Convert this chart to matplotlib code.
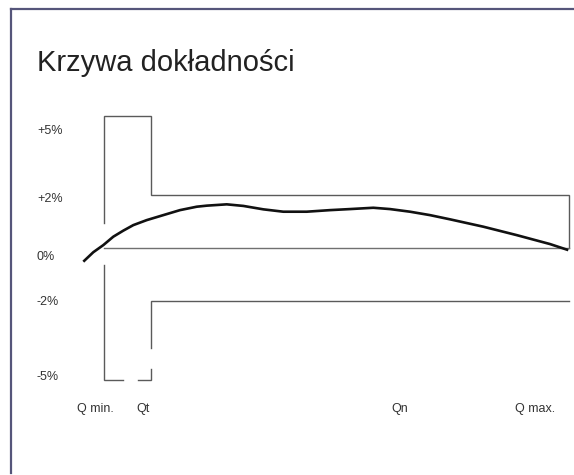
import matplotlib.pyplot as plt
from matplotlib.lines import Line2D

# accuracy curve, x in % of the Qmin..Qmax span, y in %
curve_x = [-4.45, -2.30, -0.15, 2.00, 4.15, 6.30, 9.18, 12.75, 16.34, 19.94,
           22.09, 26.39, 29.96, 34.26, 38.56, 43.59, 48.60, 52.90, 57.91,
           61.51, 65.81, 70.11, 74.41, 81.57, 88.75, 95.91, 99.85]
curve_y = [-0.52, -0.16, 0.11, 0.43, 0.66, 0.87, 1.06, 1.25, 1.44, 1.57,
           1.61, 1.66, 1.60, 1.47, 1.38, 1.38, 1.44, 1.48, 1.53,
           1.48, 1.38, 1.25, 1.09, 0.81, 0.49, 0.15, -0.08]

# limit lines (as printed, with gaps)
upper_x = [0, 0, 10, 10, 100, 100]
upper_y = [0.95, 5, 5, 2, 2, 0]
lower_x = [10, 10, 100]
lower_y = [-3.8, -2, -2]
lower_left_x = [0, 0, 4]
lower_left_y = [-0.65, -5, -5]
lower_foot_x = [7.3, 10, 10]
lower_foot_y = [-5, -5, -4.6]
zero_x = [0, 100]
zero_y = [0, 0]

ytick_pos = [4.5, 1.93, -0.27, -1.98, -4.83]
ytick_labels = ["+5%", "+2%", "0%", "-2%", "-5%"]
xtick_pos = [-1.94, 8.39, 63.66, 92.69]
xtick_labels = ["Q min.", "Qt", "Qn", "Q max."]

plt.rcParams['font.family'] = ['Liberation Sans', 'DejaVu Sans']

W, H = 574, 475
fig = plt.figure(figsize=(W / 100, H / 100), dpi=100)
fig.patch.set_facecolor("white")

# axes box in pixels: left 50, right 574, top 100, bottom 398
ax = fig.add_axes([50 / W, (H - 398) / H, 524 / W, 298 / H])
ax.set_xlim((50 - 104) / 4.65, (574 - 104) / 4.65)
ax.set_ylim((248 - 398) / 26.3, (248 - 100) / 26.3)
ax.set_facecolor("none")
for s in ax.spines.values():
    s.set_visible(False)

lim_kw = dict(color="#5a5a5a", lw=1.0, clip_on=False, solid_joinstyle="miter")
ax.plot(upper_x, upper_y, **lim_kw)
ax.plot(lower_x, lower_y, **lim_kw)
ax.plot(lower_left_x, lower_left_y, **lim_kw)
ax.plot(lower_foot_x, lower_foot_y, **lim_kw)
ax.plot(zero_x, zero_y, color="#707070", lw=1.0, clip_on=False)

ax.plot(curve_x, curve_y, color="#111111", lw=1.9, clip_on=False,
        solid_capstyle="butt", solid_joinstyle="round")

ax.set_yticks(ytick_pos)
ax.set_yticklabels(ytick_labels, ha="left", fontsize=9, color="#333333")
ax.tick_params(axis="y", length=0, pad=9.4)
ax.set_xticks(xtick_pos)
ax.set_xticklabels(xtick_labels, fontsize=9, color="#333333")
ax.tick_params(axis="x", length=0, pad=3.4)

fig.text(37 / W, (H - 71) / H, "Krzywa dokładności", fontsize=21,
         color="#222222", ha="left", va="baseline")

# frame of the slide
fig.add_artist(Line2D([11 / W, 11 / W], [(H - 473) / H, (H - 9) / H],
                      transform=fig.transFigure, color="#55557a", lw=1.6))
fig.add_artist(Line2D([11 / W, 1.0], [(H - 9) / H, (H - 9) / H],
                      transform=fig.transFigure, color="#55557a", lw=1.6))

fig.savefig("out.png", dpi=100)
